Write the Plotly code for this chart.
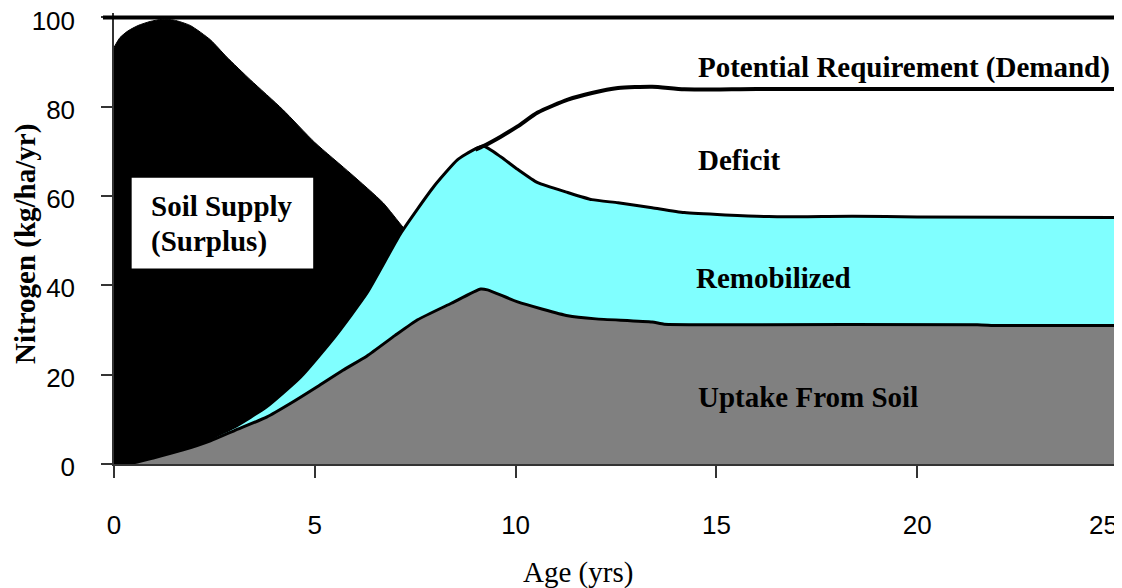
import plotly.graph_objects as go

# ---- data ----
soil_x = [0, 0.15, 0.35, 0.6, 0.9, 1.2, 1.5, 1.9, 2.4, 2.8, 3.4, 4.2, 5.0, 5.9, 6.7, 7.2, 7.8, 8.5]
soil_y = [93.3, 95.5, 97.0, 98.2, 99.1, 99.6, 99.4, 98.2, 95.0, 91.2, 86.0, 79.4, 72.0, 65.0, 58.5, 53.0, 47.0, 40.0]

total_x = [2.3, 2.47, 3.0, 3.8, 4.65, 5.5, 6.3, 7.15, 7.96, 8.55, 8.96, 9.2, 9.63, 10.05, 10.55, 11.3, 11.9, 12.55, 13.4, 14.2, 16.3, 18.4, 20.0, 25.0]
total_y = [5.0, 6.0, 8.3, 12.8, 19.5, 28.5, 38.3, 51.8, 62.1, 68.1, 70.4, 71.2, 68.8, 66.0, 63.0, 60.8, 59.2, 58.5, 57.4, 56.3, 55.4, 55.5, 55.3, 55.2]

demand_x = [9.0, 9.2, 9.63, 10.05, 10.55, 11.3, 11.9, 12.55, 13.4, 14.2, 16.0, 20.0, 25.0]
demand_y = [70.4, 71.2, 73.3, 75.6, 78.7, 81.6, 83.1, 84.2, 84.5, 83.9, 84.0, 84.0, 84.0]

uptake_x = [0, 0.5, 1.0, 1.7, 2.4, 3.0, 3.8, 4.4, 5.06, 5.7, 6.3, 7.0, 7.56, 8.4, 9.13, 9.3, 10.05, 11.3, 12.0, 13.4, 13.7, 15.0, 21.5, 22.0, 25.0]
uptake_y = [0, 0.3, 1.4, 3.1, 5.2, 7.5, 10.5, 13.6, 17.3, 21.0, 24.2, 28.8, 32.3, 36.0, 39.2, 39.0, 36.3, 33.2, 32.5, 31.8, 31.3, 31.2, 31.2, 31.0, 31.0]

x_ticks = [0, 5, 10, 15, 20, 25]
x_tick_text = ["0", "5", "10", "15", "20", "25"]
y_ticks = [0, 20, 40, 60, 80, 100]

labels = ["Potential Requirement (Demand)", "Deficit", "Remobilized", "Uptake From Soil"]
label_x = [14.5, 14.5, 14.45, 14.5]
label_y = [88.8, 68.0, 41.7, 14.9]

SERIF = "Liberation Serif, Times New Roman, serif"
SANS = "Liberation Sans, Arial, sans-serif"

# page geometry (the html body adds an 8px margin)
PLOT_L, PLOT_R, PLOT_T, PLOT_B = 114, 1118, 13, 464
PW, PH = PLOT_R - PLOT_L, PLOT_B - PLOT_T


def px(xp):
    return (xp - PLOT_L) / PW


def py(yp):
    return (PLOT_B - yp) / PH


# the last tick label sits left of its tick in the reference (kept inside the page),
# so it is drawn as a separate text; the axis shows the others
axis_tick_text = x_tick_text[:-1] + [""]

fig = go.Figure()
fig.add_trace(go.Scatter(x=soil_x, y=soil_y, mode="lines", fill="tozeroy",
                         fillcolor="black", line=dict(color="black", width=1, shape="spline", smoothing=0.6),
                         hoverinfo="skip", showlegend=False))
fig.add_trace(go.Scatter(x=total_x, y=total_y, mode="lines", fill="tozeroy",
                         fillcolor="#80FFFF", line=dict(color="black", width=3, shape="spline", smoothing=0.5),
                         hoverinfo="skip", showlegend=False))
fig.add_trace(go.Scatter(x=uptake_x, y=uptake_y, mode="lines", fill="tozeroy",
                         fillcolor="#808080", line=dict(color="black", width=3, shape="spline", smoothing=0.5),
                         hoverinfo="skip", showlegend=False))
fig.add_trace(go.Scatter(x=demand_x, y=demand_y, mode="lines",
                         line=dict(color="black", width=4, shape="spline", smoothing=0.6),
                         hoverinfo="skip", showlegend=False))

# thick top line at 100 and thin right edge
fig.add_shape(type="line", xref="paper", yref="y", x0=-0.011, x1=1.0, y0=100, y1=100,
              line=dict(color="black", width=4))
fig.add_shape(type="line", xref="x", yref="y", x0=25, x1=25, y0=0, y1=100,
              line=dict(color="#999999", width=1))

# Soil supply label box
fig.add_shape(type="rect", xref="x", yref="y", x0=0.44, x1=4.96, y0=43.8, y1=64.1,
              fillcolor="white", line=dict(width=0))
fig.add_annotation(x=0.87, y=57.7, xref="x", yref="y", text="<b>Soil Supply</b>", showarrow=False,
                   xanchor="left", yanchor="middle", font=dict(family=SERIF, size=29, color="black"))
fig.add_annotation(x=0.87, y=49.9, xref="x", yref="y", text="<b>(Surplus)</b>", showarrow=False,
                   xanchor="left", yanchor="middle", font=dict(family=SERIF, size=29, color="black"))

for t, lx, ly in zip(labels, label_x, label_y):
    fig.add_annotation(x=lx, y=ly, xref="x", yref="y", text="<b>" + t + "</b>", showarrow=False,
                       xanchor="left", yanchor="middle", font=dict(family=SERIF, size=29, color="black"))

# last x tick label
fig.add_annotation(x=px(1120), y=py(525), xref="paper", yref="paper", text=x_tick_text[-1],
                   showarrow=False, xanchor="right", yanchor="middle",
                   font=dict(family=SANS, size=26, color="black"))

# axis titles as annotations
fig.add_annotation(x=px(25), y=py(244), xref="paper", yref="paper", text="<b>Nitrogen (kg/ha/yr)</b>",
                   showarrow=False, textangle=-90, xanchor="center", yanchor="middle",
                   font=dict(family=SERIF, size=29, color="black"))
fig.add_annotation(x=px(578), y=py(572), xref="paper", yref="paper",
                   text="Age (yrs)", showarrow=False, xanchor="center", yanchor="middle",
                   font=dict(family=SERIF, size=29, color="black"))

fig.update_layout(
    width=1114, height=580,
    margin=dict(l=PLOT_L - 8, r=1114 - (PLOT_R - 8), t=PLOT_T - 8, b=580 - (PLOT_B - 8),
                autoexpand=False),
    paper_bgcolor="white", plot_bgcolor="white",
    xaxis=dict(range=[0, 25], tickvals=x_ticks, ticktext=axis_tick_text, ticks="outside", ticklen=12,
               tickwidth=1.5, tickcolor="#333", showline=True, linecolor="#333", linewidth=1.5,
               automargin=False, showgrid=False, zeroline=False, ticklabelstandoff=25,
               ticklabeloverflow="allow",
               tickfont=dict(family=SANS, size=26, color="black")),
    yaxis=dict(range=[0, 101], tickvals=y_ticks, ticks="outside", ticklen=11, tickwidth=1.5,
               tickcolor="#333", showline=True, linecolor="#333", linewidth=1.5, automargin=False,
               showgrid=False, zeroline=False, ticklabelstandoff=21, ticklabeloverflow="allow",
               ticklabelshift=3,
               tickfont=dict(family=SANS, size=26, color="black")),
)

fig.write_html("out.html")
